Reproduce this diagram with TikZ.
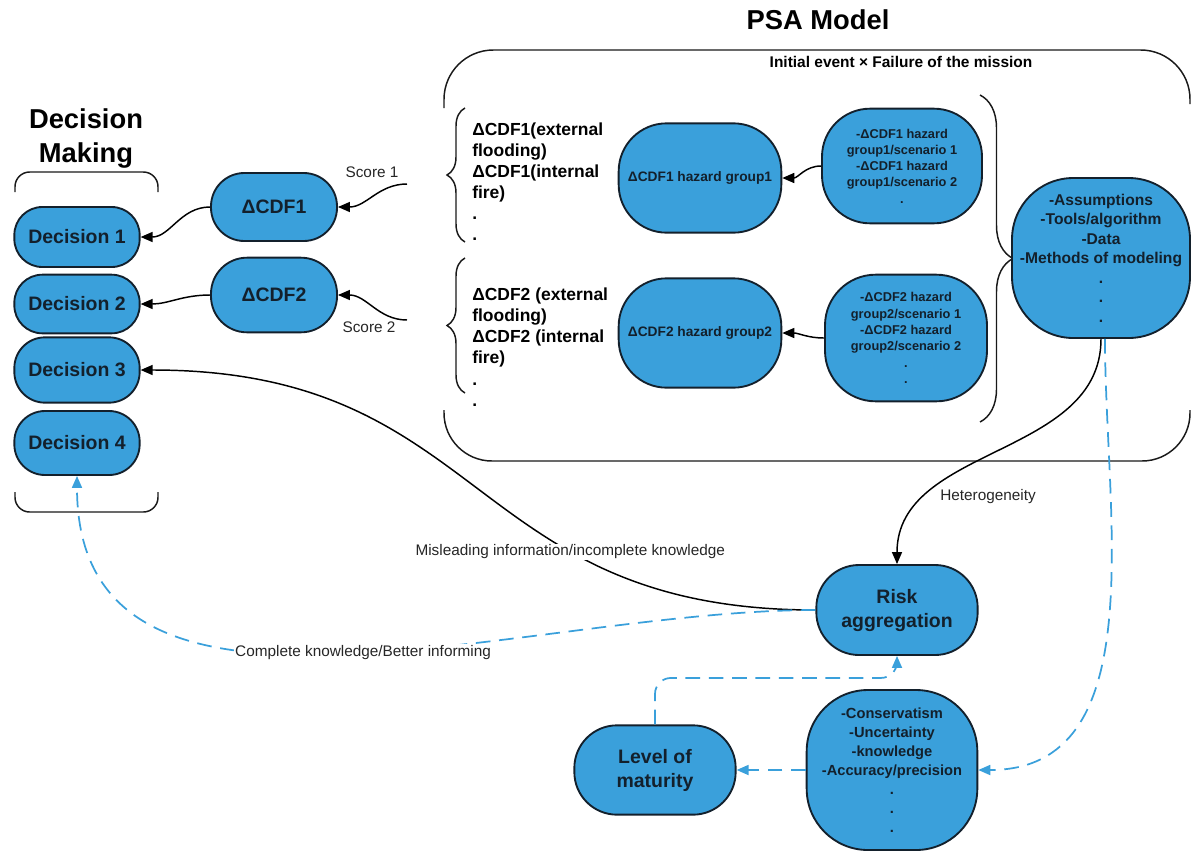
\documentclass[tikz,border=0pt]{standalone}
\usepackage{fontspec}
\setmainfont{Liberation Sans}
\usetikzlibrary{arrows.meta,decorations.pathreplacing}
\definecolor{lucid}{HTML}{3AA0DB}
\definecolor{ink}{HTML}{13202C}

\begin{document}
\begin{tikzpicture}[x=0.75pt,y=-0.75pt,
  blob/.style={draw=ink,line width=1.4pt,fill=lucid,text=ink,rounded corners=#1,align=center,inner sep=0pt},
  blob/.default=20pt,
  big/.style={font=\fontsize{14.6}{18}\selectfont\bfseries},
  arr/.style={draw=black,line width=1.1pt,-{Triangle[length=9pt,width=7.5pt]}},
  darr/.style={draw=lucid,line width=1.3pt,dash pattern=on 11pt off 6.5pt,-{Triangle[length=9pt,width=7.5pt]}},
  lbl/.style={font=\fontsize{11.5}{14}\selectfont,text=black!85,inner sep=1pt},
  frame/.style={draw=black!90,line width=1.1pt}]
 \useasboundingbox (0,0) rectangle (1192,850);

 % titles
 \node[font=\fontsize{20.5}{25.5}\selectfont\bfseries,align=center] (dmtitle) at (86,138) {Decision\\Making};
 \node[font=\fontsize{20.5}{25}\selectfont\bfseries] (psatitle) at (818,20) {PSA Model};
 \node[font=\fontsize{11.6}{14}\selectfont\bfseries] (ievent) at (901,62) {Initial event × Failure of the mission};

 % brackets
 \draw[frame,rounded corners=11pt] (15,192) |- (158,172) -- (158,192);
 \draw[frame,rounded corners=11pt] (15,492) |- (158,512) -- (158,492);
 \draw[frame,rounded corners=37pt] (444,108) |- (1190,50) -- (1190,104);
 \draw[frame,rounded corners=36pt] (444,410) |- (1190,461) -- (1190,410);
 \draw[frame,decorate,decoration={brace,amplitude=13.5pt}] (465,242) -- (465,108);
 \draw[frame,decorate,decoration={brace,amplitude=13.5pt}] (465,393) -- (465,258);
 \draw[frame,decorate,decoration={brace,amplitude=24.75pt}] (980,95) -- (980,422);

 % decisions
 \node[blob=21pt,big,minimum width=94pt,minimum height=45pt] (dec1) at (77,237) {Decision 1};
 \node[blob=21pt,big,minimum width=94pt,minimum height=44pt] (dec2) at (77,304) {Decision 2};
 \node[blob=23pt,big,minimum width=94pt,minimum height=49pt] (dec3) at (77,370) {Decision 3};
 \node[blob=23pt,big,minimum width=94pt,minimum height=48pt] (dec4) at (77,443) {Decision 4};

 \node[blob=25pt,big,minimum width=94.5pt,minimum height=51pt] (cdf1) at (274,207) {ΔCDF1};
 \node[blob=27pt,big,minimum width=94.5pt,minimum height=56pt] (cdf2) at (274,295) {ΔCDF2};

 % PSA model
 \node[font=\fontsize{13.1}{15.75}\selectfont\bfseries,align=left,anchor=west,inner sep=0pt] (list1) at (472,182)
   {ΔCDF1(external\\flooding)\\ΔCDF1(internal\\fire)\\.\\.};
 \node[font=\fontsize{13.1}{15.9}\selectfont\bfseries,align=left,anchor=west,inner sep=0pt] (list2) at (472,347)
   {ΔCDF2 (external\\flooding)\\ΔCDF2 (internal\\fire)\\.\\.};

 \node[blob=36pt,font=\fontsize{10.3}{12.5}\selectfont\bfseries,minimum width=122pt,minimum height=82pt] (haz1) at (700,178) {ΔCDF1 hazard group1};
 \node[blob=36pt,font=\fontsize{10.3}{12.5}\selectfont\bfseries,minimum width=122pt,minimum height=82pt] (haz2) at (700,333) {ΔCDF2 hazard group2};
 \node[blob=36pt,font=\fontsize{9.6}{12.2}\selectfont\bfseries,minimum width=120pt,minimum height=86pt] (scen1) at (902,166)
   {-ΔCDF1 hazard\\group1/scenario 1\\-ΔCDF1 hazard\\group1/scenario 2\\.};
 \node[blob=38pt,font=\fontsize{9.6}{12.2}\selectfont\bfseries,minimum width=121.5pt,minimum height=95pt] (scen2) at (906,338)
   {-ΔCDF2 hazard\\group2/scenario 1\\-ΔCDF2 hazard\\group2/scenario 2\\.\\.};
 \node[blob=46pt,font=\fontsize{11.7}{14.6}\selectfont\bfseries,minimum width=133.5pt,minimum height=120pt] (assm) at (1101,258)
   {-Assumptions\\-Tools/algorithm\\-Data\\-Methods of modeling\\.\\.\\.};

 % lower part
 \node[blob=32pt,big,minimum width=121pt,minimum height=67.5pt] (risk) at (897,610) {Risk\\aggregation};
 \node[blob=46pt,font=\fontsize{11}{14.25}\selectfont\bfseries,minimum width=128pt,minimum height=120pt] (cons) at (892,770)
   {-Conservatism\\-Uncertainty\\-knowledge\\-Accuracy/precision\\.\\.\\.};
 \node[blob=32pt,big,minimum width=121pt,minimum height=67pt] (lev) at (655,770) {Level of\\maturity};

 % connectors
 \coordinate (sc1) at (407,184);
 \coordinate (sc2) at (407,320);
 \draw[arr] (sc1) to[out=180,in=0] (cdf1.east);
 \draw[arr] (sc2) to[out=180,in=0] (cdf2.east);
 \node[lbl] (lsc1) at (372,172) {Score 1};
 \node[lbl] (lsc2) at (369,327) {Score 2};
 \draw[arr] (cdf1.west) to[out=180,in=0] (dec1.east);
 \draw[arr] (cdf2.west) to[out=180,in=0] (dec2.east);
 \draw[arr] (scen1.west) to[out=180,in=0] (haz1.east);
 \draw[arr] (scen2.west) to[out=180,in=0] (haz2.east);

 \draw[arr] (assm.south) to[out=-90,in=90] (risk.north);
 \node[lbl] (lhet) at (988,497) {Heterogeneity};
 \draw[darr] ([xshift=3pt]assm.south) to[out=-90,in=0] (cons.east);
 \draw[arr] (risk.west) to[out=180,in=0,looseness=1.25] node[lbl,fill=white,pos=0.32] (lmis) {Misleading information/incomplete knowledge} (dec3.east);
 \draw[darr] (risk.west) to[out=180,in=-90] node[lbl,fill=white,pos=0.47] (lcom) {Complete knowledge/Better informing} (dec4.south);
 \draw[darr] (cons.west) -- (lev.east);
 \draw[darr,rounded corners=12pt] (lev.north) |- ([yshift=-16.5pt]risk.south) -- (risk.south);
\end{tikzpicture}
\end{document}
